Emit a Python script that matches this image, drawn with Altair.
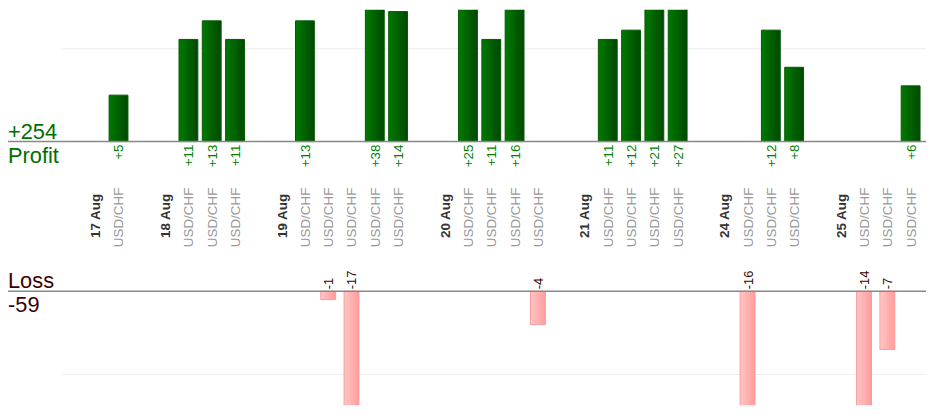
import altair as alt
import pandas as pd

# ---- data ----
day_labels = ["17 Aug", "18 Aug", "19 Aug", "20 Aug", "21 Aug", "24 Aug", "25 Aug"]
day_results = [
    [5],
    [11, 13, 11],
    [13, -1, -17, 38, 14],
    [25, 11, 16, -4],
    [11, 12, 21, 27],
    [-16, 12, 8],
    [-14, -7, 6],
]
pair_name = "USD/CHF"

# ---- build tables: one slot per date label, one per trade, one spacer ----
day_rows, trade_rows = [], []
slot = 0
for label, results in zip(day_labels, day_results):
    day_rows.append({"slot": slot, "label": label})
    slot += 1
    for r in results:
        trade_rows.append({"slot": slot, "pair": pair_name, "result": r, "base": 0,
                           "text": f"+{r}" if r > 0 else f"{r}"})
        slot += 1
    slot += 1
days = pd.DataFrame(day_rows)
trades = pd.DataFrame(trade_rows)
last_slot = int(trades["slot"].max())
profit_total = sum(r for rs in day_results for r in rs if r > 0)
loss_total = sum(r for rs in day_results for r in rs if r < 0)

FONT = "Liberation Sans"
W, H = 926, 399

x_scale = alt.Scale(domain=[0, last_slot], range=[89, 911.5], nice=False, zero=False, padding=0)
profit_scale = alt.Scale(domain=[0, 14.2], range=[133, 0], nice=False)
loss_scale = alt.Scale(domain=[-13.7, 0], range=[399, 284], nice=False, zero=False)

X = alt.X("slot:Q", scale=x_scale, axis=None)

green_grad = {"gradient": "linear", "x1": 0, "x2": 1, "y1": 0, "y2": 0,
              "stops": [{"offset": 0, "color": "#007a00"}, {"offset": 1, "color": "#004800"}]}
pink_grad = {"gradient": "linear", "x1": 0, "x2": 1, "y1": 0, "y2": 0,
             "stops": [{"offset": 0, "color": "#ffc6c6"}, {"offset": 1, "color": "#ff9c9c"}]}

profit_trades = alt.Chart(trades).transform_filter("datum.result > 0")
loss_trades = alt.Chart(trades).transform_filter("datum.result < 0")

grid_profit = alt.Chart(pd.DataFrame({"v": [10]})).mark_rule(color="#ececec", strokeWidth=1).encode(
    y=alt.Y("v:Q", scale=profit_scale, axis=None), x=alt.value(55), x2=alt.value(W))
grid_loss = alt.Chart(pd.DataFrame({"v": [-10]})).mark_rule(color="#ececec", strokeWidth=1).encode(
    y=alt.Y("v:Q", scale=loss_scale, axis=None), x=alt.value(55), x2=alt.value(W))

profit_bars = profit_trades.mark_bar(size=19, xOffset=-1, clip=True, fill=green_grad,
                                     stroke="#005a00", strokeWidth=1).encode(
    x=X, y=alt.Y("result:Q", scale=profit_scale, axis=None), y2="base:Q")
loss_bars = loss_trades.mark_bar(size=15, xOffset=-1, clip=True, fill=pink_grad,
                                 stroke="#ff9999", strokeWidth=1).encode(
    x=X, y=alt.Y("result:Q", scale=loss_scale, axis=None), y2="base:Q")

base_profit = alt.Chart(pd.DataFrame({"v": [0]})).mark_rule(color="#888888", strokeWidth=1.5).encode(
    y=alt.Y("v:Q", scale=profit_scale, axis=None), x=alt.value(0), x2=alt.value(W))
base_loss = alt.Chart(pd.DataFrame({"v": [0]})).mark_rule(color="#888888", strokeWidth=1.5).encode(
    y=alt.Y("v:Q", scale=loss_scale, axis=None), x=alt.value(0), x2=alt.value(W))

profit_labels = profit_trades.mark_text(angle=270, align="right", baseline="middle", fontSize=13.5,
                                        font=FONT, color="#008000", yOffset=3).encode(
    x=X, y=alt.Y("base:Q", scale=profit_scale, axis=None), text="text:N")
loss_labels = loss_trades.mark_text(angle=270, align="left", baseline="middle", fontSize=13,
                                    font=FONT, color="#330000", yOffset=-2).encode(
    x=X, y=alt.Y("base:Q", scale=loss_scale, axis=None), text="text:N")

date_labels = alt.Chart(days).mark_text(angle=270, align="center", baseline="middle", fontSize=13.5,
                                        font=FONT, fontWeight="bold", color="#333333").encode(
    x=X, y=alt.value(208), text="label:N")
pair_labels = alt.Chart(trades).mark_text(angle=270, align="center", baseline="middle", fontSize=13.5,
                                          font=FONT, color="#999999").encode(
    x=X, y=alt.value(209.5), text="pair:N")


def side_text(txt, ypix, color):
    return alt.Chart(pd.DataFrame({"t": [txt]})).mark_text(
        align="left", baseline="alphabetic", fontSize=22, font=FONT, color=color).encode(
        x=alt.value(0), y=alt.value(ypix), text="t:N")


t_total_profit = side_text(f"+{profit_total}", 130, "#006f00")
t_profit = side_text("Profit", 155, "#006f00")
t_loss = side_text("Loss", 281, "#3d0000")
t_total_loss = side_text(f"{loss_total}", 304.5, "#3d0000")

chart = alt.layer(
    grid_profit, grid_loss, profit_bars, loss_bars, base_profit, base_loss,
    profit_labels, loss_labels, date_labels, pair_labels,
    t_total_profit, t_profit, t_loss, t_total_loss,
).resolve_scale(y="independent").properties(
    width=W, height=H, padding=0, autosize=alt.AutoSizeParams(type="none")
).configure_view(stroke="transparent")

chart.save("out.html", embed_options={"renderer": "svg", "actions": False})
